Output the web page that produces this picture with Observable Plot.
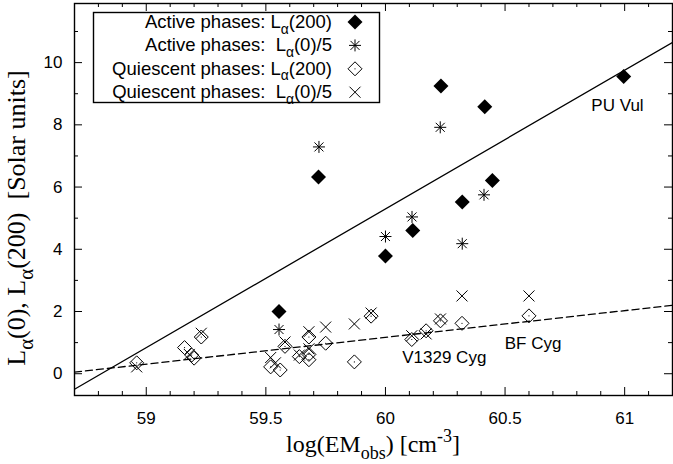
<!DOCTYPE html>
<html><head><meta charset="utf-8">
<script src="https://cdn.jsdelivr.net/npm/d3@7"></script>
<script src="https://cdn.jsdelivr.net/npm/@observablehq/plot@0.6"></script>
<style>body{margin:0;background:#fff} #chart svg{display:block}</style>
</head><body><div id="chart"></div>
<script>
// ---------- data ----------
const activeL200X = [59.555, 59.72, 60.0, 60.114, 60.232, 60.321, 60.415, 60.447, 60.996];
const activeL200Y = [2.0, 6.32, 3.78, 4.6, 9.25, 5.52, 8.58, 6.21, 9.55];
const activeL0X = [59.555, 59.722, 60.0, 60.111, 60.229, 60.321, 60.412];
const activeL0Y = [1.42, 7.29, 4.41, 5.04, 7.92, 4.18, 5.75];
const quietL200X = [58.96, 59.16, 59.19, 59.20, 59.23, 59.52, 59.56, 59.58, 59.64, 59.68, 59.68, 59.68, 59.75, 59.87, 59.94, 60.11, 60.17, 60.23, 60.32, 60.60];
const quietL200Y = [0.35, 0.84, 0.60, 0.50, 1.18, 0.22, 0.12, 0.88, 0.55, 1.18, 0.62, 0.45, 0.98, 0.38, 1.85, 1.10, 1.38, 1.70, 1.62, 1.86];
const quietL0X = [58.96, 59.18, 59.23, 59.52, 59.54, 59.58, 59.64, 59.68, 59.68, 59.75, 59.87, 59.94, 60.11, 60.17, 60.23, 60.32, 60.60];
const quietL0Y = [0.22, 0.62, 1.30, 0.52, 0.35, 1.02, 0.60, 1.35, 0.80, 1.50, 1.60, 1.95, 1.22, 1.28, 1.76, 2.50, 2.50];
const activeFitX = [58.7, 61.2];
const activeFitY = [-0.5, 10.65];
const quietFitX = [58.7, 61.2];
const quietFitY = [0.05, 2.2];
const labelNames = ["PU Vul", "BF Cyg", "V1329 Cyg"];
const labelX = [60.97, 60.617, 60.246];
const labelY = [8.62, 0.98, 0.51];
const xMajor = [59, 59.5, 60, 60.5, 61];
const xMinor = [58.8, 58.9, 59.1, 59.2, 59.3, 59.4, 59.6, 59.7, 59.8, 59.9, 60.1, 60.2, 60.3, 60.4, 60.6, 60.7, 60.8, 60.9, 61.1];
const yMajor = [0, 2, 4, 6, 8, 10];
const yMinor = [1, 3, 5, 7, 9, 11];
const xDomain = [58.7, 61.2];
const yDomain = [-0.7, 11.9];

// ---------- layout ----------
const W = 673, H = 464;
const mL = 74, mR = 1, mT = 3, mB = 69;
const plotH = H - mT - mB, plotW = W - mL - mR;
const SANS = "'Liberation Sans', Arial, Helvetica, sans-serif";
const SERIF = "'Liberation Serif', 'Times New Roman', serif";

// ---------- symbols ----------
const rad = s => Math.sqrt(s / Math.PI);
const diamondSym = {draw(c, s) { const r = rad(s); c.moveTo(0, -r); c.lineTo(r, 0); c.lineTo(0, r); c.lineTo(-r, 0); c.closePath(); }};
const crossSym = {draw(c, s) { const r = rad(s); c.moveTo(-r, -r); c.lineTo(r, r); c.moveTo(-r, r); c.lineTo(r, -r); }};
const starSym = {draw(c, s) { const r = rad(s); const d = r * 0.75;
  c.moveTo(0, -r); c.lineTo(0, r); c.moveTo(-r, 0); c.lineTo(r, 0);
  c.moveTo(-d, -d); c.lineTo(d, d); c.moveTo(-d, d); c.lineTo(d, -d); }};

const pts = (X, Y) => X.map((x, i) => ({x, y: Y[i]}));
const activeL200 = pts(activeL200X, activeL200Y);
const activeL0 = pts(activeL0X, activeL0Y);
const quietL200 = pts(quietL200X, quietL200Y);
const quietL0 = pts(quietL0X, quietL0Y);
const labels = labelNames.map((t, i) => ({t, x: labelX[i], y: labelY[i]}));

const chart = Plot.plot({
  width: W, height: H,
  marginLeft: mL, marginRight: mR, marginTop: mT, marginBottom: mB,
  x: {domain: xDomain},
  y: {domain: yDomain},
  style: {fontFamily: SANS, fontSize: "17px", color: "black", background: "white", overflow: "visible"},
  marks: [
    Plot.axisX({ticks: xMajor, tickSize: 0, tickPadding: 16, tickFormat: d => String(d), label: null, fontSize: 17}),
    Plot.axisY({ticks: yMajor, tickSize: 0, tickPadding: 12, tickFormat: d => String(d), label: null, fontSize: 17}),
    Plot.tickX(xMajor, {x: d => d, insetTop: plotH - 8, stroke: "black"}),
    Plot.tickX(xMajor, {x: d => d, insetBottom: plotH - 8, stroke: "black"}),
    Plot.tickX(xMinor, {x: d => d, insetTop: plotH - 4, stroke: "black"}),
    Plot.tickX(xMinor, {x: d => d, insetBottom: plotH - 4, stroke: "black"}),
    Plot.tickY(yMajor, {y: d => d, insetRight: plotW - 8, stroke: "black"}),
    Plot.tickY(yMajor, {y: d => d, insetLeft: plotW - 8, stroke: "black"}),
    Plot.tickY(yMinor, {y: d => d, insetRight: plotW - 4, stroke: "black"}),
    Plot.tickY(yMinor, {y: d => d, insetLeft: plotW - 4, stroke: "black"}),
    Plot.line(pts(activeFitX, activeFitY), {x: "x", y: "y", stroke: "black", strokeWidth: 1.3, clip: true}),
    Plot.line(pts(quietFitX, quietFitY), {x: "x", y: "y", stroke: "black", strokeWidth: 1.3, strokeDasharray: "7,4", clip: true}),
    Plot.dot(quietL200, {x: "x", y: "y", symbol: diamondSym, r: 7, stroke: "black", strokeWidth: 1, fill: "none"}),
    Plot.dot(quietL200, {x: "x", y: "y", r: 0.6, fill: "black", stroke: "none"}),
    Plot.dot(quietL0, {x: "x", y: "y", symbol: crossSym, r: 5.5, stroke: "black", strokeWidth: 1, fill: "none"}),
    Plot.dot(activeL200, {x: "x", y: "y", symbol: diamondSym, r: 7.5, fill: "black", stroke: "none"}),
    Plot.dot(activeL0, {x: "x", y: "y", symbol: starSym, r: 6, stroke: "black", strokeWidth: 1, fill: "none"}),
    Plot.text(labels, {x: "x", y: "y", text: "t", fontSize: 17, fill: "black"}),
    Plot.frame({stroke: "black", strokeWidth: 1.4})
  ]
});
document.getElementById("chart").appendChild(chart);

// ---------- titles and legend (with sub/superscripts) ----------
const svg = d3.select(chart);
function rich(g, parts, size, sc = 0.75) {
  let shift = 0;
  parts.forEach(([t, m]) => {
    const target = m === "sub" ? size * 0.3 : m === "sup" ? -size * 0.4 : 0;
    g.append("tspan").attr("dy", target - shift).attr("font-size", m ? size * sc : size).text(t);
    shift = target;
  });
}
// x title
const xt = svg.append("text").attr("x", mL + plotW / 2).attr("y", 452)
  .attr("text-anchor", "middle").attr("font-family", SERIF).attr("font-size", 24).attr("fill", "black");
rich(xt, [["log(EM", ""], ["obs", "sub"], [") [cm", ""], ["-3", "sup"], ["]", ""]], 24);
// y title
const yt = svg.append("text").attr("transform", `translate(25,${mT + plotH / 2 + 19}) rotate(-90)`)
  .attr("text-anchor", "middle").attr("font-family", SERIF).attr("font-size", 26).attr("fill", "black");
rich(yt, [["L", ""], ["α", "sub"], ["(0), L", ""], ["α", "sub"], ["(200)\u00a0\u00a0[Solar units]", ""]], 26, 0.8);

// legend
const lg = svg.append("g");
lg.append("rect").attr("x", 93.5).attr("y", 12.5).attr("width", 286).attr("height", 90)
  .attr("fill", "white").attr("stroke", "black").attr("stroke-width", 1.4);
const legendRows = [
  {pre: "Active phases: L", post: "(200)", sym: diamondSym, r: 7.5, fill: "black", stroke: "none"},
  {pre: "Active phases:\u00a0\u00a0L", post: "(0)/5", sym: starSym, r: 6, fill: "none", stroke: "black"},
  {pre: "Quiescent phases: L", post: "(200)", sym: diamondSym, r: 7, fill: "none", stroke: "black", dot: true},
  {pre: "Quiescent phases:\u00a0\u00a0L", post: "(0)/5", sym: crossSym, r: 5.5, fill: "none", stroke: "black"}
];
legendRows.forEach((row, i) => {
  const cy = 22 + i * 23.4;
  const t = lg.append("text").attr("x", 332).attr("y", cy + 6).attr("text-anchor", "end")
    .attr("font-family", SANS).attr("font-size", 18.5).attr("fill", "black");
  rich(t, [[row.pre, ""], ["α", "sub"], [row.post, ""]], 18.5);
  lg.append("path").attr("transform", `translate(355,${cy})`)
    .attr("d", d3.symbol(row.sym, Math.PI * row.r * row.r)())
    .attr("fill", row.fill).attr("stroke", row.stroke).attr("stroke-width", 1);
  if (row.dot) lg.append("circle").attr("cx", 355).attr("cy", cy).attr("r", 0.6).attr("fill", "black");
});
</script></body></html>
